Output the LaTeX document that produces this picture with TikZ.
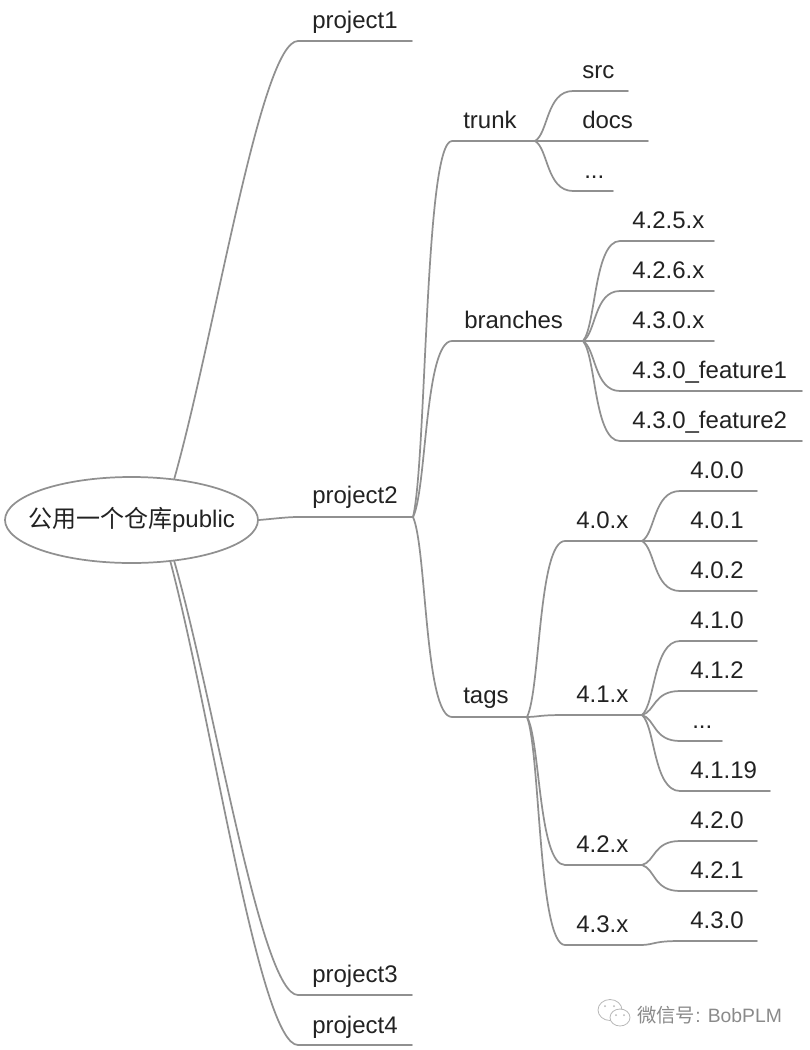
\documentclass[tikz,border=0pt]{standalone}
\usepackage{fontspec}
\setmainfont{Liberation Sans}
\newfontfamily\cjkfont{Noto Sans CJK SC}
\usetikzlibrary{shapes.geometric,calc}
\definecolor{linegray}{HTML}{909090}
\definecolor{textdark}{HTML}{222222}
\definecolor{markgray}{HTML}{8A8A8A}
\definecolor{icongray}{HTML}{B8B8B8}
\tikzset{
  conn/.style={draw=linegray,line width=1.3pt,line cap=round,line join=round},
  topic/.style={anchor=base west,inner sep=0pt,text=textdark,font=\fontsize{18}{20}\selectfont},
  rootnode/.style={ellipse,draw=linegray,line width=1.3pt,fill=white,minimum width=189.75pt,minimum height=64.5pt,inner sep=0pt,text=textdark,font=\fontsize{18}{20}\selectfont},
  wmtext/.style={anchor=base west,inner sep=0pt,text=markgray},
  bubble/.style={draw=icongray,line width=0.6pt,fill=white}
}
% curve shape: first control at fractions (\fa of dx, \fb of dy), second at (\fc of dx, end y)
\def\fa{0.33}\def\fb{0.33}\def\fc{0.7}
% name, parent coordinate, x where the line turns straight, y, x end, text x, text baseline, text
\newcommand{\topicnode}[8]{%
  \coordinate (#1-s) at (#3,#4);
  \coordinate (#1-e) at (#5,#4);
  \coordinate (#1-p) at ($(#2)!\fa!(#1-s)$);
  \coordinate (#1-q) at ($(#2)!\fb!(#1-s)$);
  \coordinate (#1-r) at ($(#2)!\fc!(#1-s)$);
  \node[topic] (#1) at (#6,#7) {#8};
  \draw[conn] (#2) .. controls (#1-p |- #1-q) and (#1-r |- #1-s) .. (#1-s) -- (#1-e);
}
\begin{document}
\begin{tikzpicture}[x=0.75pt,y=-0.75pt]
\useasboundingbox (0,0) rectangle (810,1050);
\node[rootnode] (root) at (131.5,520) {\makebox[0pt]{\cjkfont 公用一个仓库\rmfamily public}};
\coordinate (rootn) at (root.44);
\coordinate (rootr) at (root.east);
\coordinate (roots) at (root.-44);
\coordinate (roott) at (root.-47);
\topicnode{pa}{rootn}{298}{41}{412}{312}{28}{project1}
\topicnode{pb}{rootr}{298}{517}{413}{312}{503}{project2}
\topicnode{pc}{roots}{298}{995}{412}{312}{982}{project3}
\topicnode{pd}{roott}{298}{1045}{412}{312}{1033}{project4}
\def\fa{0.35}\def\fb{0.15}\def\fc{0.3}
\topicnode{trunk}{pb-e}{452}{141}{535}{463}{128}{trunk}
\topicnode{branches}{pb-e}{452}{341}{583}{464}{328}{branches}
\topicnode{tags}{pb-e}{452}{717}{527}{463}{703}{tags}
\topicnode{src}{trunk-e}{573}{91}{628}{582}{78}{src}
\topicnode{docs}{trunk-e}{573}{141}{648}{582}{128}{docs}
\topicnode{dotsa}{trunk-e}{573}{191}{613}{584}{178}{...}
\topicnode{bra}{branches-e}{620}{241}{714}{632}{228}{4.2.5.x}
\topicnode{brb}{branches-e}{620}{291}{714}{632}{278}{4.2.6.x}
\topicnode{brc}{branches-e}{620}{341}{714}{632}{328}{4.3.0.x}
\topicnode{brd}{branches-e}{620}{391}{802}{632}{378}{4.3.0\_feature1}
\topicnode{bre}{branches-e}{620}{441}{802}{632}{428}{4.3.0\_feature2}
\topicnode{tza}{tags-e}{565}{541}{642}{576}{528}{4.0.x}
\topicnode{tzb}{tags-e}{565}{715}{642}{576}{702}{4.1.x}
\topicnode{tzc}{tags-e}{565}{865}{642}{576}{852}{4.2.x}
\topicnode{tzd}{tags-e}{565}{945}{642}{576}{932}{4.3.x}
\topicnode{ta}{tza-e}{680}{491}{757}{690}{478}{4.0.0}
\topicnode{tb}{tza-e}{680}{541}{757}{690}{528}{4.0.1}
\topicnode{tc}{tza-e}{680}{591}{757}{690}{578}{4.0.2}
\topicnode{td}{tzb-e}{680}{641}{757}{690}{628}{4.1.0}
\topicnode{te}{tzb-e}{680}{691}{757}{690}{678}{4.1.2}
\topicnode{tf}{tzb-e}{680}{741}{722}{692}{728}{...}
\topicnode{tg}{tzb-e}{680}{791}{770}{690}{778}{4.1.19}
\topicnode{th}{tzc-e}{680}{841}{757}{690}{828}{4.2.0}
\topicnode{ti}{tzc-e}{680}{891}{757}{690}{878}{4.2.1}
\topicnode{tj}{tzd-e}{680}{941}{757}{690}{928}{4.3.0}
% watermark
\draw[bubble] (610,1010) ellipse [x radius=12,y radius=10.5];
\draw[bubble] (620,1017.5) ellipse [x radius=10,y radius=8.5];
\fill[icongray] (605,1006) circle (1) (614,1006) circle (1) (616,1015) circle (1) (624,1015) circle (1);
\node[wmtext,font=\fontsize{14.5}{16}\selectfont] (wm) at (637,1022) {\cjkfont 微信号\rmfamily: BobPLM};
\end{tikzpicture}
\end{document}
